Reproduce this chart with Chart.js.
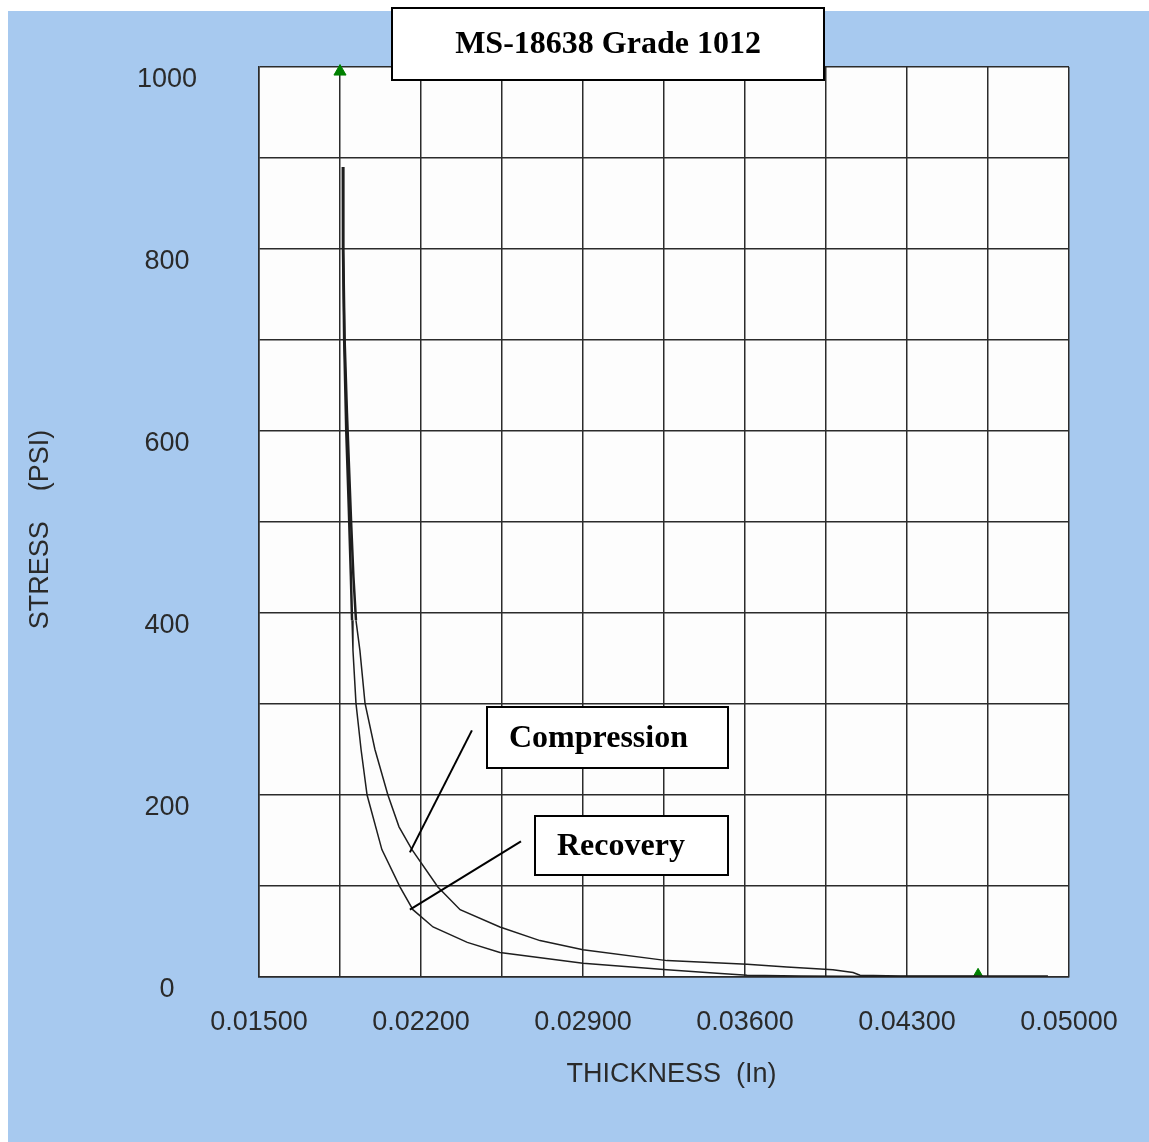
<!DOCTYPE html>
<html>
<head>
<meta charset="utf-8">
<title>MS-18638 Grade 1012</title>
<script src="https://cdn.jsdelivr.net/npm/chart.js@4.4.1/dist/chart.umd.min.js"></script>
<style>
  html, body { margin: 0; padding: 0; background: #fff; }
  #wrap { width: 1149px; height: 1142px; position: relative; }
</style>
</head>
<body>
<div id="wrap"><canvas id="stressChart"></canvas></div>
<script>
// compression run: thickness (in) vs stress (psi)
const compThickness = [0.01863, 0.01864, 0.01870, 0.01880, 0.01889, 0.01898, 0.01908, 0.01919, 0.01936,
  0.01958, 0.02001, 0.02057, 0.02105, 0.02161, 0.02273, 0.02369, 0.02541, 0.02714, 0.02900,
  0.03263, 0.03609, 0.03781, 0.03980, 0.04067, 0.04097, 0.04270, 0.04702, 0.04909];
const compStress = [890, 800, 700, 620, 560, 500, 440, 392, 359,
  301, 250, 200, 165, 140, 99, 74, 55, 40, 30,
  18, 14, 11, 8, 5, 2, 1, 1, 1];

// recovery run
const recThickness = [0.01863, 0.01863, 0.01868, 0.01877, 0.01888, 0.01897, 0.01902, 0.01906, 0.01919,
  0.01941, 0.01967, 0.02031, 0.02109, 0.02165, 0.02252, 0.02400, 0.02541, 0.02900, 0.03263,
  0.03479, 0.03609, 0.03838, 0.04200, 0.04607];
const recStress = [890, 800, 700, 600, 515, 440, 392, 359, 301,
  250, 200, 140, 99, 74, 55, 38, 27, 15, 8,
  4, 2, 1, 0.5, 0.5];

// green end markers
const markerThickness = [0.0185, 0.04607];
const markerStress = [995, 4];

const thicknessTicks = [0.015, 0.022, 0.029, 0.036, 0.043, 0.050];
const stressTicks = [0, 200, 400, 600, 800, 1000];

const titleText = "MS-18638 Grade 1012";

function toPoints(xs, ys) {
  return xs.map((x, i) => ({ x: x, y: ys[i] }));
}

function isLabelled(list, value) {
  return list.some((v) => Math.abs(v - value) < 1e-7);
}

// the steep upper part of each run is drawn heavier
function segWidth(ctx) {
  return ctx.p1.parsed.y > 380 ? 2.5 : 1.5;
}

const tickFont = { family: "'Liberation Sans', Arial, sans-serif", size: 27 };
const boxFont = "bold 32px 'Liberation Serif', 'Times New Roman', serif";

// blue panel behind everything, white plotting field
const backdrop = {
  id: "backdrop",
  beforeDraw(chart) {
    const { ctx, width, height, chartArea: a } = chart;
    ctx.save();
    ctx.fillStyle = "#ffffff";
    ctx.fillRect(0, 0, width, height);
    ctx.fillStyle = "#a7c9ef";
    ctx.fillRect(8, 11, width - 8, height - 11);
    ctx.fillStyle = "#fdfdfd";
    ctx.fillRect(a.left, a.top, a.right - a.left, a.bottom - a.top);
    ctx.restore();
  },
};

// labelled boxes with leader lines, placed in data units
const callouts = [
  { text: "Compression", from: [0.02420, 271], to: [0.02152, 137], box: [0.02485, 297, 0.03527, 230] },
  { text: "Recovery", from: [0.02632, 149], to: [0.02152, 74], box: [0.02693, 177, 0.03527, 112] },
];

function drawBox(ctx, x0, y0, x1, y1, text, align) {
  ctx.fillStyle = "#ffffff";
  ctx.fillRect(x0, y0, x1 - x0, y1 - y0);
  ctx.strokeStyle = "#000";
  ctx.lineWidth = 2;
  ctx.strokeRect(x0, y0, x1 - x0, y1 - y0);
  ctx.fillStyle = "#000";
  ctx.font = boxFont;
  ctx.textBaseline = "middle";
  if (align === "center") {
    ctx.textAlign = "center";
    ctx.fillText(text, (x0 + x1) / 2, (y0 + y1) / 2 + 1);
  } else {
    ctx.textAlign = "left";
    ctx.fillText(text, x0 + 22, (y0 + y1) / 2 + 1);
  }
}

const annotations = {
  id: "annotations",
  afterDraw(chart) {
    const { ctx } = chart;
    const sx = chart.scales.x;
    const sy = chart.scales.y;
    ctx.save();
    callouts.forEach((c) => {
      ctx.strokeStyle = "#000";
      ctx.lineWidth = 2;
      ctx.beginPath();
      ctx.moveTo(sx.getPixelForValue(c.from[0]), sy.getPixelForValue(c.from[1]));
      ctx.lineTo(sx.getPixelForValue(c.to[0]), sy.getPixelForValue(c.to[1]));
      ctx.stroke();
      drawBox(ctx,
        Math.round(sx.getPixelForValue(c.box[0])), Math.round(sy.getPixelForValue(c.box[1])),
        Math.round(sx.getPixelForValue(c.box[2])), Math.round(sy.getPixelForValue(c.box[3])),
        c.text, "left");
    });
    drawBox(ctx, 392, 8, 824, 80, titleText, "center");
    ctx.restore();
  },
};

const gridStyle = { color: "#2b2b2b", lineWidth: 1.5, drawTicks: false };
const borderStyle = { color: "#2b2b2b", width: 1.5 };

new Chart(document.getElementById("stressChart"), {
  type: "line",
  data: {
    datasets: [
      {
        label: "Compression",
        data: toPoints(compThickness, compStress),
        borderColor: "#1e1e1e",
        borderWidth: 1.5,
        segment: { borderWidth: segWidth },
        pointRadius: 0,
        tension: 0,
      },
      {
        label: "Recovery",
        data: toPoints(recThickness, recStress),
        borderColor: "#1e1e1e",
        borderWidth: 1.5,
        segment: { borderWidth: segWidth },
        pointRadius: 0,
        tension: 0,
      },
      {
        label: "Limits",
        data: toPoints(markerThickness, markerStress),
        showLine: false,
        pointStyle: "triangle",
        pointRadius: [7, 5],
        backgroundColor: "#008000",
        borderColor: "#008000",
        borderWidth: 1,
        clip: false,
      },
    ],
  },
  options: {
    responsive: true,
    maintainAspectRatio: false,
    animation: false,
    layout: { padding: { top: 67, right: 80, left: 0, bottom: 0 } },
    plugins: {
      legend: { display: false },
      tooltip: { enabled: false },
    },
    scales: {
      x: {
        type: "linear",
        min: 0.015,
        max: 0.05,
        grid: gridStyle,
        border: borderStyle,
        ticks: {
          stepSize: 0.0035,
          autoSkip: false,
          maxRotation: 0,
          minRotation: 0,
          padding: 29,
          color: "#2a2a2a",
          font: tickFont,
          callback: (v) => (isLabelled(thicknessTicks, v) ? v.toFixed(5) : ""),
        },
        title: {
          display: true,
          text: "  THICKNESS  (In)",
          color: "#2a2a2a",
          font: tickFont,
          padding: { top: 0, bottom: 51 },
        },
        afterFit(scale) {
          scale.height = 165;
        },
      },
      y: {
        type: "linear",
        min: 0,
        max: 1000,
        grid: gridStyle,
        border: borderStyle,
        ticks: {
          stepSize: 100,
          autoSkip: false,
          crossAlign: "center",
          padding: 62,
          labelOffset: 13,
          color: "#2a2a2a",
          font: tickFont,
          callback: (v) => (isLabelled(stressTicks, v) ? String(v) : ""),
        },
        title: {
          display: true,
          text: "STRESS    (PSI)  ",
          color: "#2a2a2a",
          font: tickFont,
          padding: { top: 24, bottom: 0 },
        },
        afterFit(scale) {
          // the wide tick padding would otherwise push the plot top down
          scale.width = 259;
          scale.paddingTop = 0;
          scale.paddingBottom = 0;
        },
      },
    },
  },
  plugins: [backdrop, annotations],
});
</script>
</body>
</html>
